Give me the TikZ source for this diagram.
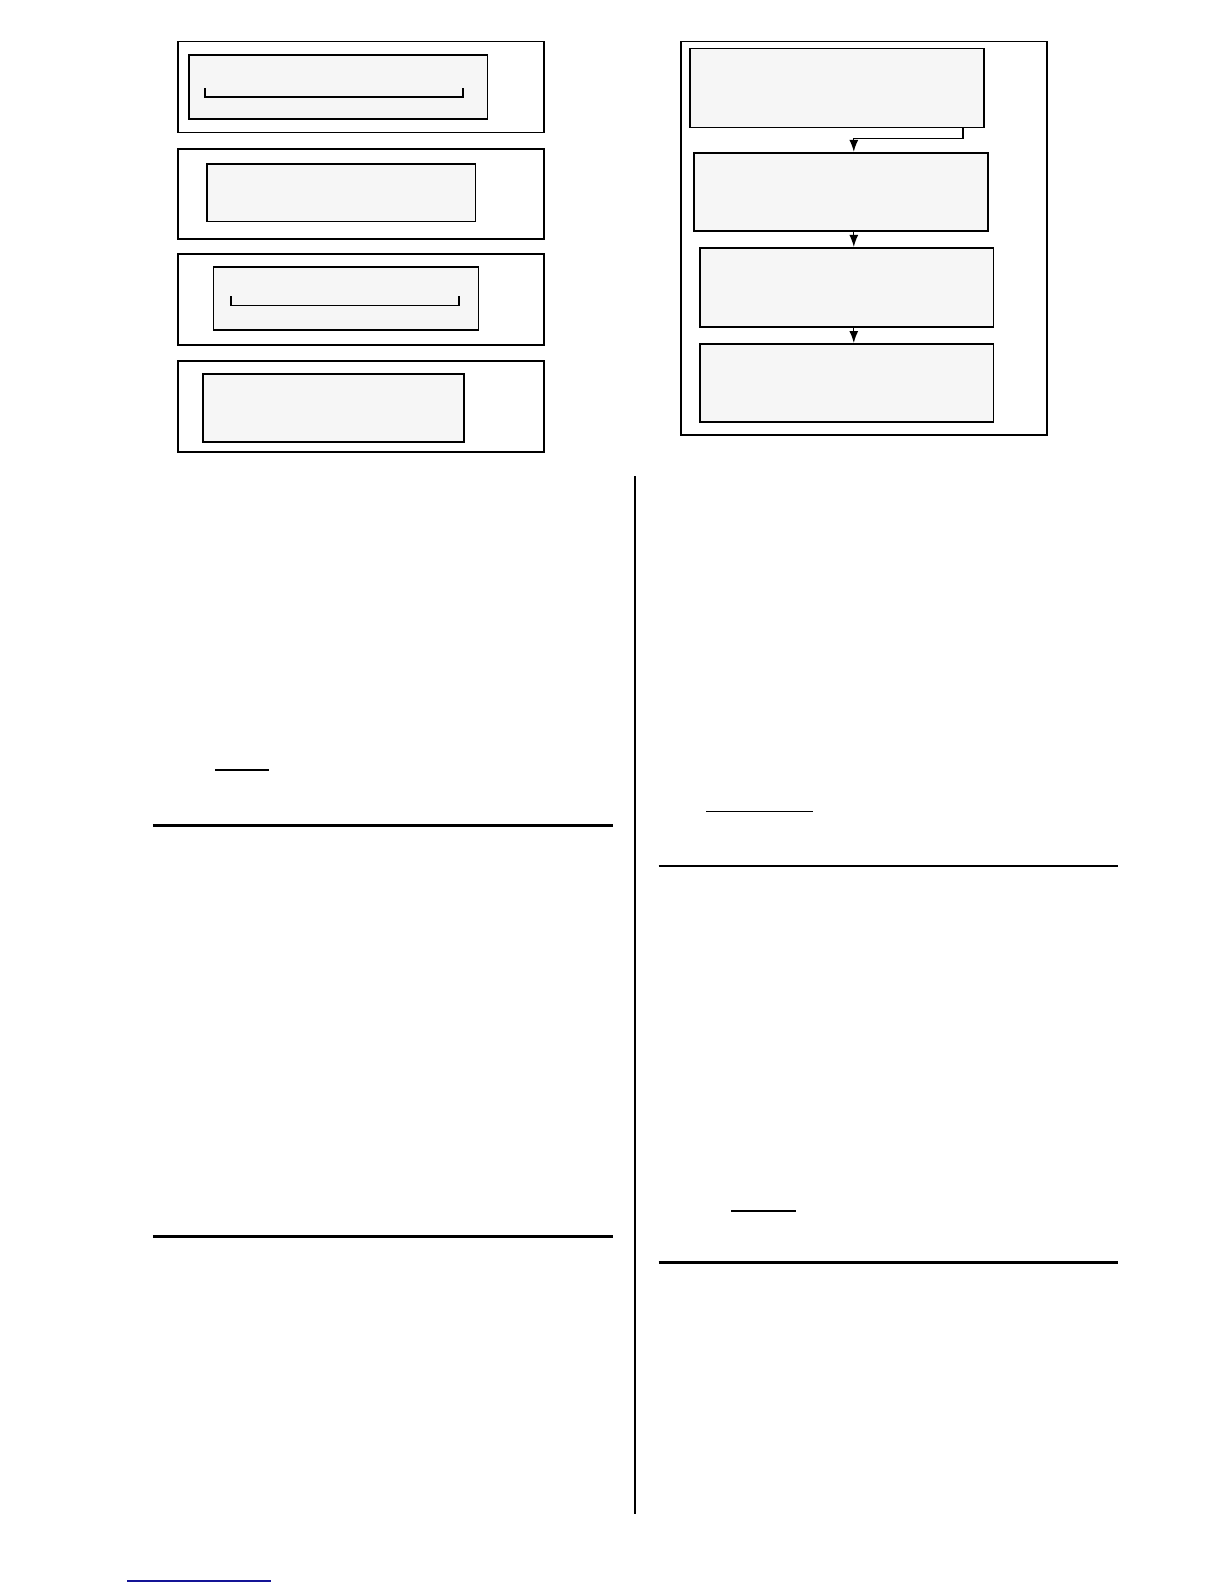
\documentclass[tikz,border=0pt]{standalone}
\usepackage{xcolor}
\usetikzlibrary{arrows.meta,fit}
\definecolor{boxfill}{RGB}{246,246,246}
\definecolor{linkblue}{RGB}{20,20,150}
\tikzstyle{panel}=[draw, line width=0.9pt, inner sep=0pt]
\tikzstyle{innerbox}=[draw, fill=boxfill, line width=0.9pt, inner sep=0pt]
\tikzstyle{rule}=[line width=1.4pt]
\tikzstyle{underline}=[line width=0.7pt]
\tikzstyle{flow}=[line width=0.7pt, -{Latex[length=6pt,width=4.5pt]}]
\begin{document}
\begin{tikzpicture}[x=0.5058pt, y=-0.5058pt]
		\useasboundingbox (0,0) rectangle (612pt,-792pt);
		\node[panel, fit={(176,41) (538,131)}] (l1) {};
		\node[panel, fit={(176,147) (538,236)}] (l2) {};
		\node[panel, fit={(176,251) (538,341)}] (l3) {};
		\node[panel, fit={(176,357) (538,447)}] (l4) {};
		\node[innerbox, fit={(187,54) (482,118)}] (l1in) {};
		\node[innerbox, fit={(205,162) (470,219)}] (l2in) {};
		\node[innerbox, fit={(211,264) (473,326)}] (l3in) {};
		\node[innerbox, fit={(201,370) (459,437)}] (l4in) {};
		\draw[line width=0.9pt] (203,87) -- (203,96) -- (458,96) -- (458,87);
		\draw[line width=0.9pt] (228,293) -- (228,302) -- (454,302) -- (454,293);
		\node[panel, fit={(673,41) (1035,430)}] (right) {};
		\node[innerbox, fit={(682,48) (973,126)}] (r1) {};
		\node[innerbox, fit={(686,151) (977,228)}] (r2) {};
		\node[innerbox, fit={(692,245) (982,323)}] (r3) {};
		\node[innerbox, fit={(692,340) (982,417)}] (r4) {};
		\coordinate (ax) at (844,0);
		\coordinate (tap) at (952,0);
		\draw[flow] (r1.south -| tap) -- ++(0,10) -| (r2.north -| ax);
		\draw[flow] (r2.south -| ax) -- (r3.north -| ax);
		\draw[flow] (r3.south -| ax) -- (r4.north -| ax);
		\draw[line width=1pt] (628,471) -- (628,1497);
		\draw[rule] (151,816) -- (606,816);
		\draw[rule] (151,1222) -- (606,1222);
		\draw[rule] (651,856) -- (1105,856);
		\draw[rule] (651,1248) -- (1105,1248);
		\draw[underline] (213,761) -- (266,761);
		\draw[underline] (698,802) -- (804,802);
		\draw[underline] (723,1197) -- (787,1197);
		\draw[underline, linkblue] (126,1563) -- (268,1563);
	\end{tikzpicture}
\end{document}
